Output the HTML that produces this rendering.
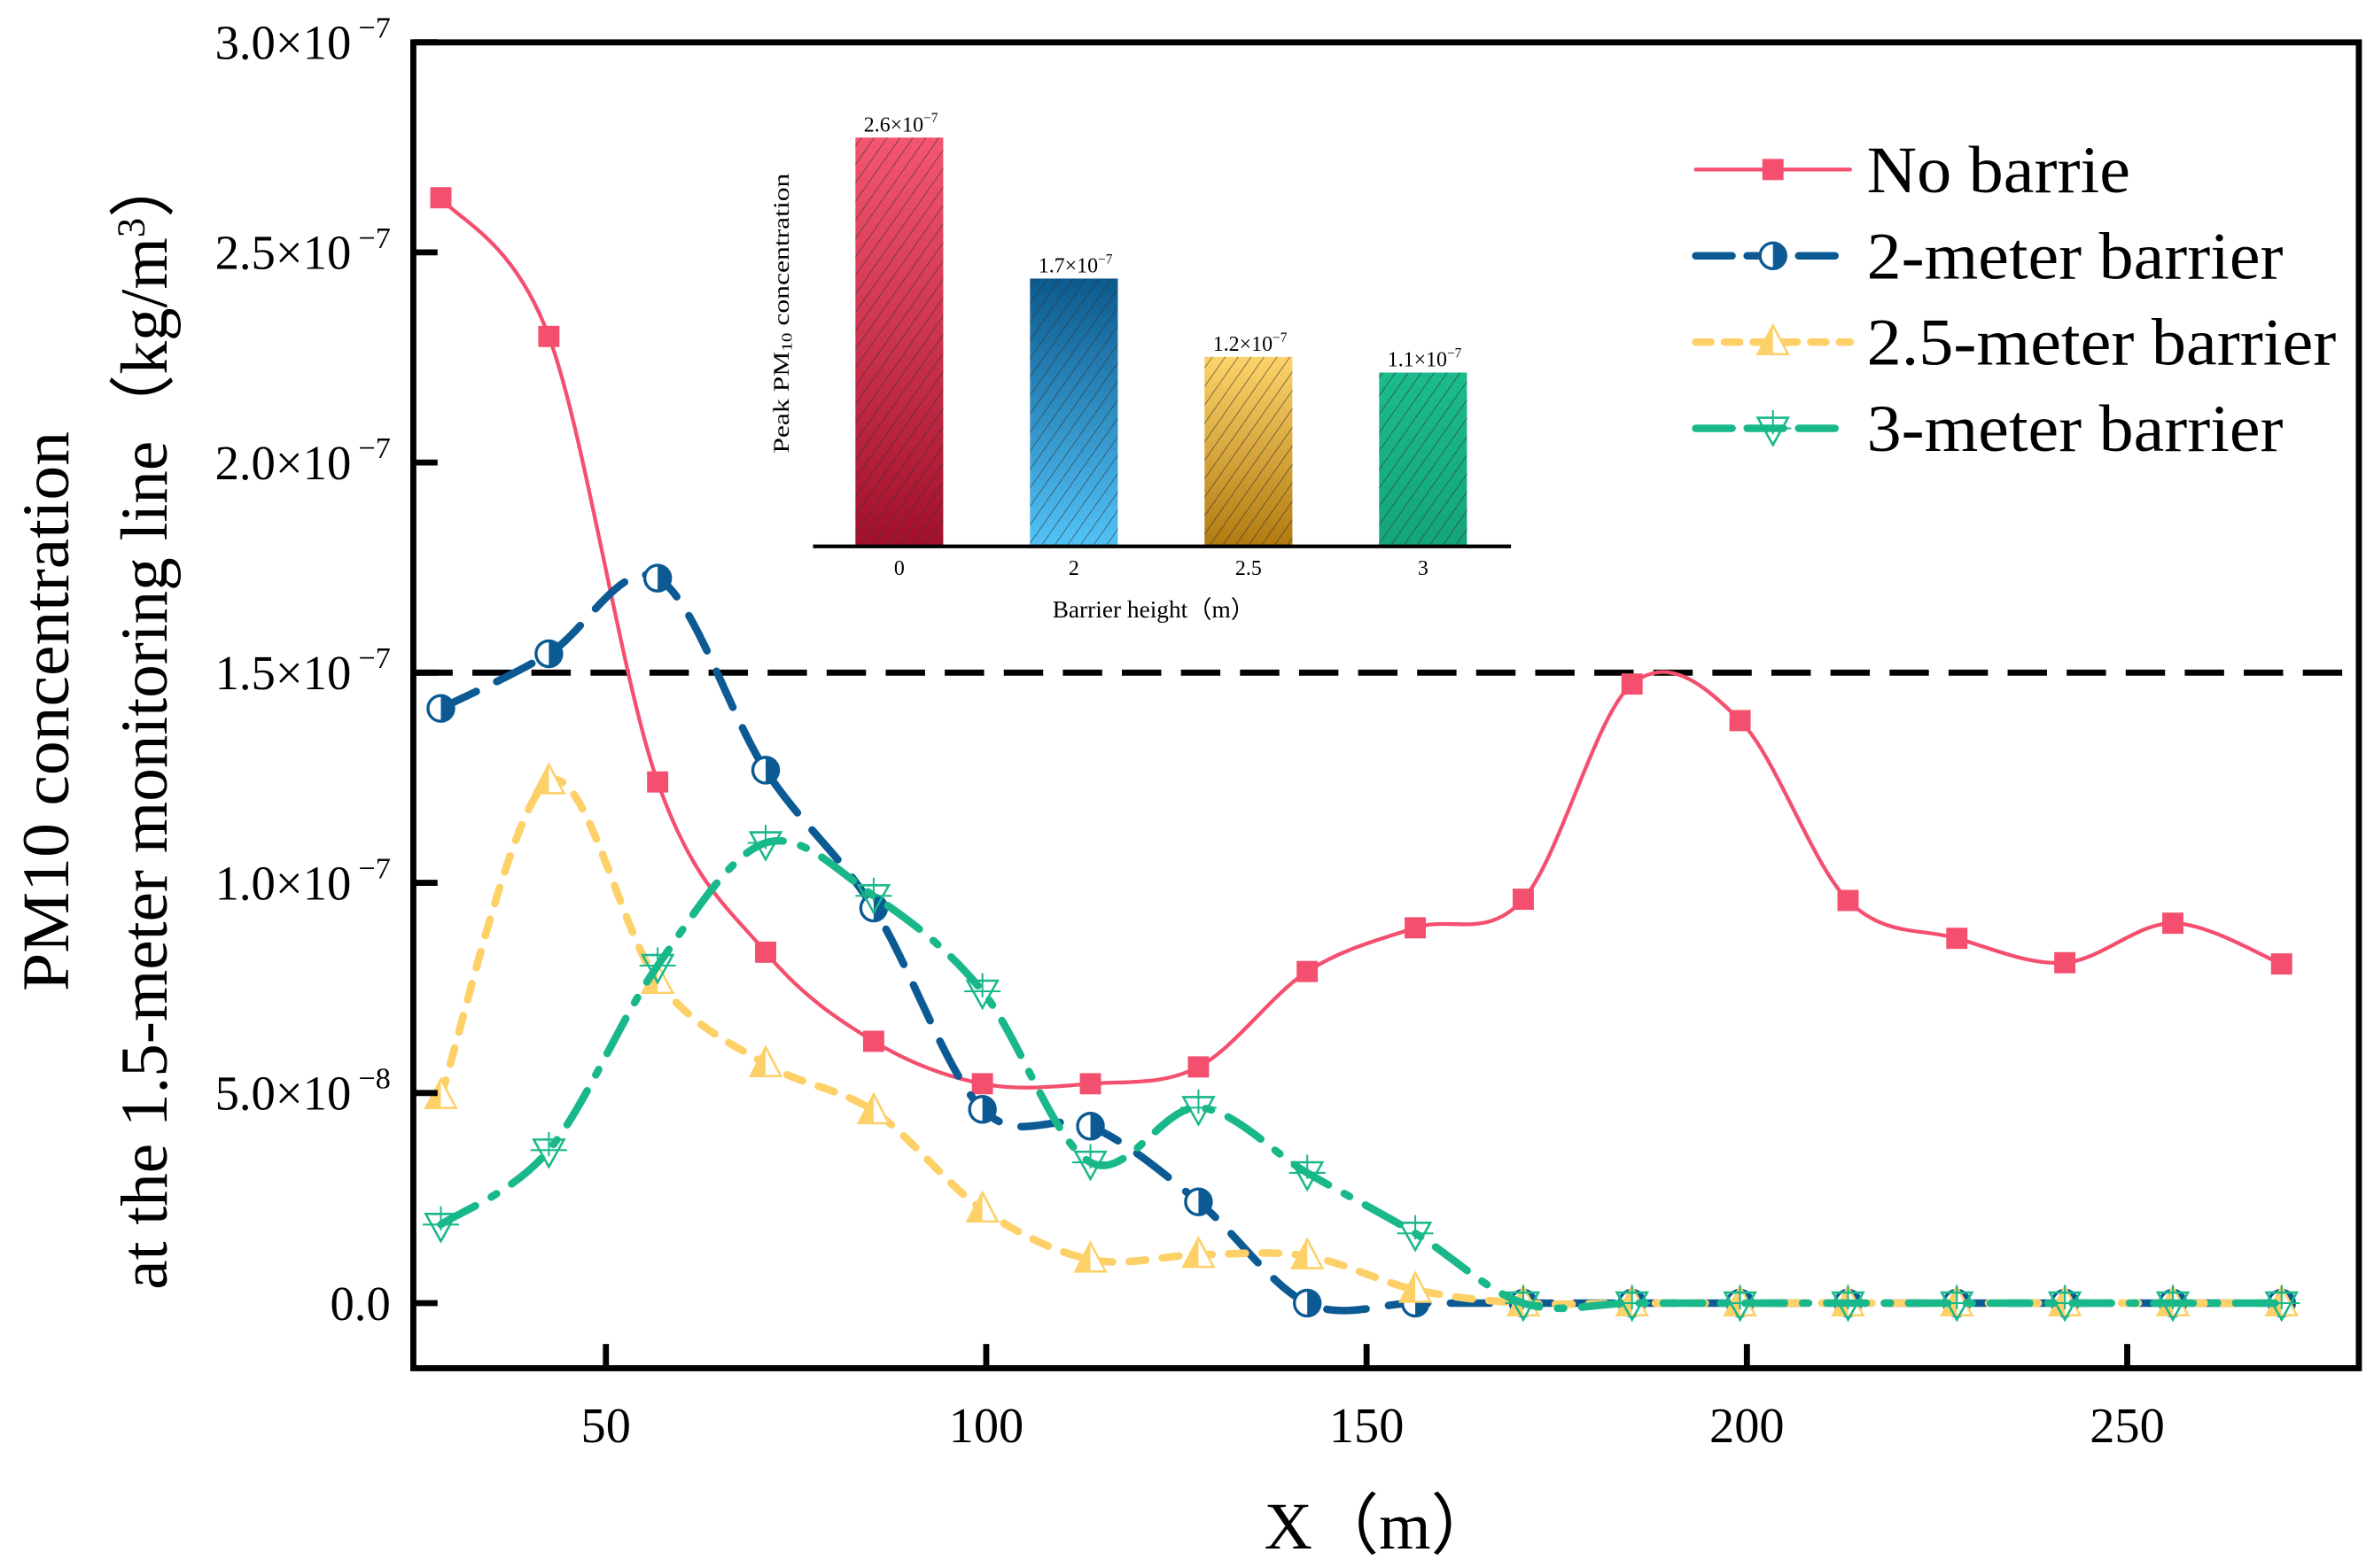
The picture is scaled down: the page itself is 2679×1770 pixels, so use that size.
<!DOCTYPE html>
<html><head><meta charset="utf-8"><style>
html,body{margin:0;padding:0;background:#fff;}
svg{display:block;font-family:"Liberation Serif",serif;}
</style></head><body>
<svg id="chart" width="2679" height="1770" viewBox="0 0 1568 1036" preserveAspectRatio="none" xmlns="http://www.w3.org/2000/svg">
<defs>
<pattern id="hatch" patternUnits="userSpaceOnUse" width="7" height="7" patternTransform="rotate(35)"><line x1="0" y1="0" x2="0" y2="7" stroke="#333" stroke-width="0.7"/></pattern>
<linearGradient id="g0" x1="0" y1="0" x2="0" y2="1"><stop offset="0" stop-color="#f5566f"/><stop offset="1" stop-color="#a3102b"/></linearGradient>
<linearGradient id="g1" x1="0" y1="0" x2="0" y2="1"><stop offset="0" stop-color="#0c5a8e"/><stop offset="1" stop-color="#52c2f7"/></linearGradient>
<linearGradient id="g2" x1="0" y1="0" x2="0" y2="1"><stop offset="0" stop-color="#fdd36a"/><stop offset="1" stop-color="#b27b10"/></linearGradient>
<linearGradient id="g3" x1="0" y1="0" x2="0" y2="1"><stop offset="0" stop-color="#1bbb8c"/><stop offset="1" stop-color="#14a57b"/></linearGradient>
</defs>
<g id="main"></g>
</svg>
<script>
const xs=[28.3,42.5,56.8,71.0,85.2,99.5,113.7,127.9,142.2,156.4,170.6,184.9,199.1,213.3,227.6,241.8,256.0,270.3];
const noBarrier=[2.63,2.30,1.24,0.835,0.623,0.522,0.522,0.562,0.789,0.893,0.961,1.473,1.386,0.958,0.868,0.810,0.904,0.807];
const barrier2=[1.415,1.545,1.725,1.268,0.94,0.461,0.421,0.241,0,0,0,0,0,0,0,0,0,0];
const barrier25=[0.493,1.242,0.767,0.569,0.457,0.223,0.104,0.115,0.112,0.032,0,0,0,0,0,0,0,0];
const barrier3=[0.187,0.364,0.803,1.095,0.969,0.742,0.335,0.465,0.31,0.166,0,0,0,0,0,0,0,0];
const xTicks=[50,100,150,200,250];
const yTicks=[0,0.5,1.0,1.5,2.0,2.5,3.0];
const yTickLabels=["0.0","5.0×10","1.0×10","1.5×10","2.0×10","2.5×10","3.0×10"];
const yTickExp=["","−8","−7","−7","−7","−7","−7"];
const threshold=1.5;
const insetCats=["0","2","2.5","3"];
const insetVals=[2.6,1.7,1.2,1.1];
const insetLabels=["2.6×10","1.7×10","1.2×10","1.1×10"];

const NS="http://www.w3.org/2000/svg";
const root=document.getElementById('main');
const L=273,R=1558,T=28,B=904;
const X=v=>149+v*5.024;
const Y=v=>861-v*277.7;
function el(tag,attrs,parent){const e=document.createElementNS(NS,tag);for(const k in attrs)e.setAttribute(k,attrs[k]);(parent||root).appendChild(e);return e;}
function txt(s,attrs,parent){const e=el('text',attrs,parent);e.textContent=s;return e;}
function spline(pts){let d=`M${pts[0][0]},${pts[0][1]}`;for(let i=0;i<pts.length-1;i++){const p0=pts[i-1]||pts[i],p1=pts[i],p2=pts[i+1],p3=pts[i+2]||p2;const c1=[p1[0]+(p2[0]-p0[0])/6,p1[1]+(p2[1]-p0[1])/6],c2=[p2[0]-(p3[0]-p1[0])/6,p2[1]-(p3[1]-p1[1])/6];d+=` C${c1[0]},${c1[1]} ${c2[0]},${c2[1]} ${p2[0]},${p2[1]}`;}return d;}

let th=el('line',{x1:L,x2:R,y1:Y(threshold),y2:Y(threshold),stroke:'#000','stroke-width':4,'stroke-dasharray':'26 13'});



const ig=el('g',{});


const iBase=360,iScale=103.5,iX0=594,iStep=115.3,bw=58;
insetVals.forEach((v,i)=>{const cx=iX0+i*iStep,h=v*iScale;
 const r=el('rect',{x:cx-bw/2,y:iBase-h,width:bw,height:h,fill:`url(#g${i})`},ig);
 
 
 el('rect',{x:cx-bw/2,y:iBase-h,width:bw,height:h,fill:'url(#hatch)'},ig);
 const t=txt(insetLabels[i],{x:cx+1,y:iBase-h-4,'font-size':14,'text-anchor':'middle'},ig);
 const s=el('tspan',{dy:-6,'font-size':9},t);s.textContent='−7';
 
 
 const c=txt(insetCats[i],{x:cx,y:380,'font-size':14,'text-anchor':'middle'},ig);
 
 
});
el('line',{x1:537,x2:998,y1:iBase+1,y2:iBase+1,stroke:'#000','stroke-width':2.5},ig);
let ixt=txt('Barrier height（m）',{x:762,y:408,'font-size':16,'text-anchor':'middle'},ig);


let iyt=txt('Peak PM',{x:0,y:0,'font-size':15,'text-anchor':'middle',textLength:185,lengthAdjust:'spacingAndGlyphs',transform:'translate(521,207) rotate(-90)'},ig);
let sub=el('tspan',{'font-size':10,dy:2},iyt);sub.textContent='10';
let rest=el('tspan',{dy:-2},iyt);rest.textContent=' concentration';



const series=[
 {name:'no-barrier',data:noBarrier,color:'#f44f6e',w:2.5,dash:'',marker:'square'},
 {name:'2-meter-barrier',data:barrier2,color:'#0c5a94',w:5,dash:'26 15',marker:'circle'},
 {name:'2.5-meter-barrier',data:barrier25,color:'#fdd068',w:5,dash:'11 11',marker:'tri'},
 {name:'3-meter-barrier',data:barrier3,color:'#19b88a',w:5,dash:'26 12 4 12',marker:'itri'}];
function marker(type,x,y,c,g){
 let m;
 if(type==='square')m=el('rect',{x:x-7,y:y-7,width:14,height:14,fill:c},g);
 else if(type==='circle'){m=el('g',{},g);el('circle',{cx:x,cy:y,r:8.5,fill:'#fff',stroke:c,'stroke-width':2},m);el('path',{d:`M${x},${y-8.5} A8.5,8.5 0 0 1 ${x},${y+8.5} Z`,fill:c},m);}
 else if(type==='tri'){m=el('g',{},g);el('path',{d:`M${x},${y-11} L${x-10},${y+8} L${x+10},${y+8} Z`,fill:'#fff',stroke:c,'stroke-width':1.5},m);el('path',{d:`M${x},${y-11} L${x-10},${y+8} L${x},${y+8} Z`,fill:c},m);}
 else {m=el('g',{},g);el('path',{d:`M${x},${y+11} L${x-10},${y-7} L${x+10},${y-7} Z`,fill:'none',stroke:c,'stroke-width':1.5},m);el('line',{x1:x-12,x2:x+12,y1:y,y2:y,stroke:c,'stroke-width':1.2},m);el('line',{x1:x,x2:x,y1:y-12,y2:y+4,stroke:c,'stroke-width':1.2},m);}
 return m;}
series.forEach(s=>{
 const g=el('g',{});
 
 
 const pts=xs.map((x,i)=>[X(x),Y(s.data[i])]);
 const p=el('path',{d:spline(pts),fill:'none',stroke:s.color,'stroke-width':s.w,'stroke-dasharray':s.dash,'stroke-linecap':'round'},g);
 
 
 pts.forEach(pt=>{const m=marker(s.marker,pt[0],pt[1],s.color,g);
  
  });
});

const fr=el('rect',{x:L,y:T,width:R-L,height:B-T,fill:'none',stroke:'#000','stroke-width':4});


xTicks.forEach(v=>{el('line',{x1:X(v),x2:X(v),y1:B,y2:B-16,stroke:'#000','stroke-width':4});
 const t=txt(String(v),{x:X(v),y:953,'font-size':33,'text-anchor':'middle'});
 
 });
yTicks.forEach((v,i)=>{el('line',{x1:L,x2:L+16,y1:Y(v),y2:Y(v),stroke:'#000','stroke-width':4});
 const t=txt(yTickLabels[i],{x:yTickExp[i]?232:258,y:Y(v)+11,'font-size':32,'text-anchor':'end'});
 if(yTickExp[i]){const s=el('tspan',{x:258,dy:-14,'font-size':20,'text-anchor':'end'},t);s.textContent=yTickExp[i];}
 
 });
let xt=txt('X（m）',{x:912,y:1023,'font-size':44,'text-anchor':'middle'});


let yt1=txt('PM10 concentration',{x:0,y:0,'font-size':44,'text-anchor':'middle',textLength:370,lengthAdjust:'spacingAndGlyphs',transform:'translate(45,470) rotate(-90)'});


let yt2=txt('at the 1.5-meter monitoring line（kg/m',{x:0,y:0,'font-size':44,'text-anchor':'middle',transform:'translate(110,476) rotate(-90)'});
let sup=el('tspan',{dy:-15,'font-size':26},yt2);sup.textContent='3';
let cl=el('tspan',{dy:15},yt2);cl.textContent='）';



const lg=el('g',{});


const legNames=['No barrie','2-meter barrier','2.5-meter barrier','3-meter barrier'];
const legLen=[174,275,310,275];
series.forEach((s,i)=>{const y=112+i*57;
 const e=el('g',{},lg);
 
 
 el('line',{x1:1120,x2:1222,y1:y,y2:y,stroke:s.color,'stroke-width':s.w,'stroke-dasharray':s.marker==='square'?'':(s.marker==='tri'?'10 9':'24 10'),'stroke-linecap':'round'},e);
 marker(s.marker,1171,y,s.color,e);
 txt(legNames[i],{x:1233,y:y+15,'font-size':44,textLength:legLen[i],lengthAdjust:'spacingAndGlyphs'},e);});
</script>
</body></html>
